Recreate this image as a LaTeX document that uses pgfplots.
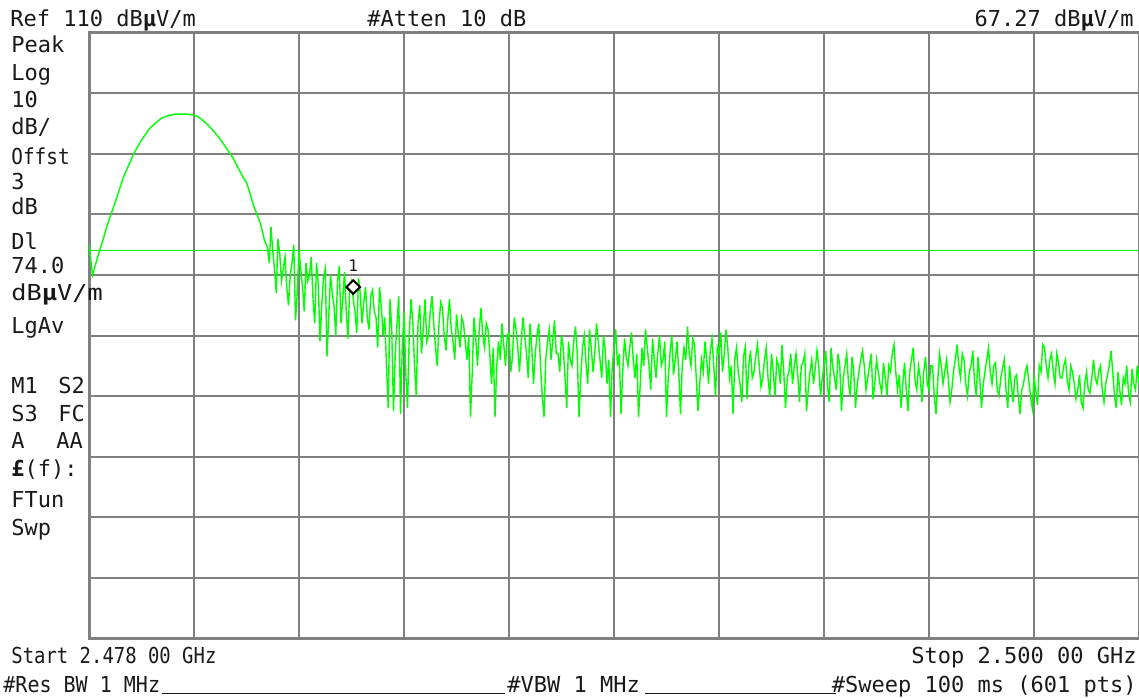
\documentclass[border=0pt]{standalone}
\usepackage{fontspec}
\setmainfont{DejaVu Sans Mono}
\usepackage{pgfplots}
\pgfplotsset{compat=1.18}
\usepackage{pgfplotstable}
\definecolor{trace}{RGB}{0,255,0}
\definecolor{gridc}{RGB}{128,128,128}
\definecolor{txt}{RGB}{25,25,25}
% trace amplitude (dBuV/m) vs sweep point (0..600 over 2.478-2.500 GHz)
% main lobe: every 2nd point, points 0..102
\pgfplotstableread[row sep=\\]{
v\\
75\\ 70\\ 72\\ 74\\ 75.8\\ 77.8\\ 79.6\\ 81.2\\ 82.9\\ 84.7\\
86.4\\ 87.7\\ 89\\ 90.3\\ 91.3\\ 92.3\\ 93.1\\ 94\\ 94.6\\ 95.1\\
95.6\\ 96\\ 96.2\\ 96.4\\ 96.5\\ 96.6\\ 96.6\\ 96.6\\ 96.6\\ 96.5\\
96.4\\ 96.2\\ 95.8\\ 95.3\\ 94.8\\ 94.2\\ 93.5\\ 92.8\\ 92\\ 91.2\\
90.3\\ 89.5\\ 88.4\\ 87.3\\ 86.2\\ 85.3\\ 83.5\\ 81.5\\ 80\\ 78.5\\
76\\ 74.5\\
}\mainlobe
% noise floor: every point, points 102..600
\pgfplotstableread[row sep=\\]{
v\\
74.5\\ 72\\ 78\\ 74\\ 71\\ 67\\ 76\\ 73.5\\ 69\\ 71\\ 73\\ 68\\ 65\\ 70\\ 72\\ 75\\ 62.5\\ 67\\
74\\ 71\\ 68\\ 64\\ 72\\ 69\\ 70\\ 73\\ 66\\ 62\\ 72\\ 68.5\\ 59\\ 65\\ 69.5\\ 71\\ 56.5\\ 63\\
70\\ 67\\ 65\\ 60\\ 69\\ 71.5\\ 62\\ 66\\ 70.5\\ 64\\ 59.5\\ 68\\ 69\\ 66\\ 64\\ 60.5\\ 69.5\\ 67\\
62\\ 65.5\\ 68\\ 63\\ 61\\ 66.5\\ 67.5\\ 64\\ 63\\ 58\\ 68\\ 65\\ 60\\ 63\\ 55\\ 48\\ 66\\ 61\\
47.5\\ 57\\ 62\\ 66.5\\ 47\\ 58\\ 64\\ 54\\ 48\\ 60\\ 66\\ 62.5\\ 55\\ 50\\ 62\\ 65\\ 57\\ 61\\
66\\ 59\\ 60\\ 64\\ 66.5\\ 62\\ 58\\ 55\\ 62\\ 65.5\\ 64.5\\ 60\\ 57.5\\ 62.5\\ 66\\ 61\\ 59\\ 56\\
63.5\\ 60.5\\ 58\\ 63\\ 62\\ 59\\ 56\\ 60\\ 46.5\\ 54\\ 63\\ 59.5\\ 55\\ 61\\ 64.5\\ 60\\ 58\\ 62\\
61\\ 57\\ 52\\ 58\\ 46.5\\ 55\\ 59\\ 56\\ 62\\ 58.5\\ 55\\ 60\\ 60.5\\ 54\\ 56.5\\ 63\\ 61\\ 58\\
54\\ 59\\ 63\\ 60\\ 57\\ 53\\ 62\\ 58\\ 52\\ 57\\ 60\\ 62\\ 55\\ 50\\ 46.5\\ 56\\ 59\\ 61\\
56\\ 59\\ 62.5\\ 57\\ 57\\ 54\\ 60\\ 58\\ 53\\ 48\\ 59\\ 56\\ 55\\ 59\\ 61.5\\ 57\\ 46.5\\ 53\\
58\\ 60\\ 55.5\\ 52\\ 61\\ 58\\ 54\\ 57\\ 62\\ 59\\ 56\\ 53\\ 60\\ 57.5\\ 52\\ 56\\ 46.5\\ 55\\
58\\ 61\\ 55\\ 57\\ 47\\ 54\\ 59.5\\ 56.5\\ 55\\ 58\\ 60.5\\ 56\\ 53\\ 57\\ 46.5\\ 52\\ 58\\ 55\\
61\\ 58\\ 55\\ 51\\ 59.5\\ 56\\ 53\\ 57\\ 60\\ 55\\ 56\\ 59\\ 46.5\\ 53\\ 57\\ 60\\ 53.5\\ 56\\
59\\ 54\\ 47\\ 55\\ 58\\ 56\\ 61.5\\ 57\\ 55\\ 59.5\\ 58.5\\ 53\\ 47.5\\ 52\\ 56\\ 54\\ 59\\ 56\\
52\\ 57.5\\ 59.5\\ 55\\ 50\\ 58\\ 57\\ 60.5\\ 54\\ 57\\ 61\\ 58\\ 53\\ 55\\ 47\\ 56\\ 58\\ 54\\
52\\ 49\\ 56.5\\ 58\\ 49.5\\ 55\\ 57.5\\ 53\\ 54\\ 56.5\\ 58.5\\ 55\\ 51.5\\ 53\\ 56\\ 58\\ 53\\ 50\\
57\\ 54\\ 50\\ 56\\ 55\\ 52\\ 58.5\\ 54\\ 48\\ 53\\ 54\\ 57\\ 52\\ 55\\ 57\\ 53.5\\ 49\\ 55\\
55.5\\ 57\\ 47.5\\ 51\\ 54\\ 56\\ 52\\ 54.5\\ 57.5\\ 55\\ 50\\ 53\\ 55\\ 57.5\\ 51.5\\ 49\\ 58\\ 55\\
53\\ 51\\ 57\\ 55\\ 47.5\\ 53\\ 55\\ 57\\ 52\\ 50\\ 56.5\\ 54\\ 48\\ 52\\ 54\\ 56\\ 57.5\\ 55\\
51\\ 53\\ 55\\ 57\\ 49.5\\ 52\\ 56\\ 54\\ 52\\ 50.5\\ 55.5\\ 53\\ 50\\ 55\\ 54\\ 57\\ 58.5\\ 54\\
51\\ 53.5\\ 48\\ 52\\ 55.5\\ 51\\ 47.5\\ 54\\ 56\\ 58\\ 52.5\\ 51\\ 55\\ 53\\ 49\\ 54\\ 56.5\\ 52\\
51\\ 55\\ 55\\ 50\\ 47\\ 52.5\\ 57\\ 55\\ 52\\ 54\\ 56\\ 53\\ 49\\ 51\\ 54\\ 56\\ 58.5\\ 55\\
53\\ 57\\ 56\\ 52\\ 50\\ 54\\ 55\\ 57.5\\ 52.5\\ 50\\ 56.5\\ 53\\ 48\\ 52\\ 54\\ 56\\ 58\\ 54\\
52\\ 55\\ 55.5\\ 51\\ 50\\ 53\\ 54.5\\ 56\\ 51\\ 48\\ 55\\ 52\\ 49\\ 53\\ 53.5\\ 50\\ 47\\ 51\\
52\\ 54\\ 55\\ 52.5\\ 50\\ 48\\ 53\\ 51\\ 48.5\\ 55\\ 54\\ 58.5\\ 58\\ 55\\ 53\\ 56\\ 57\\ 54\\
52\\ 57\\ 55.5\\ 53\\ 53\\ 55\\ 56\\ 52.5\\ 51\\ 55\\ 54\\ 52\\ 49.5\\ 51\\ 53.5\\ 49\\ 48\\ 52\\
54\\ 51\\ 50.5\\ 53\\ 56\\ 53\\ 52\\ 54\\ 55\\ 51\\ 49\\ 52\\ 53.5\\ 55\\ 57.5\\ 54\\ 50\\ 48\\
54\\ 51\\ 48.5\\ 53\\ 52\\ 55\\ 50.5\\ 49\\ 54.5\\ 52\\ 51\\ 55\\ 52\\
}\noisefloor
\begin{document}
\begin{tikzpicture}
\useasboundingbox (0,0) rectangle (569.5pt,348.5pt);
\begin{axis}[
  at={(44.5pt,29.5pt)}, anchor=south west,
  width=525pt, height=302.5pt, scale only axis,
  xmin=0, xmax=600, ymin=10, ymax=110,
  xtick={0,60,...,600}, ytick={10,20,...,110},
  xticklabels={}, yticklabels={},
  major tick length=0pt,
  grid=major,
  major grid style={draw=gridc, line width=1pt},
  axis line style={draw=gridc, line width=1.5pt},
  clip=true,
]
\addplot[trace, line width=0.7pt] table[x expr=\coordindex*2, y=v] {\mainlobe};
\addplot[trace, line width=0.7pt] table[x expr=102+\coordindex, y=v] {\noisefloor};
\addplot[trace, line width=0.6pt] coordinates {(0,74) (600,74)};
\addplot[only marks, mark=square*, mark size=2.4pt, mark options={rotate=45, fill=white, draw=black, line width=1pt}] coordinates {(151,68)};
\node[font=\fontsize{8}{9}\selectfont, text=txt] at (axis cs:151,71.6) {1};
\end{axis}
\begin{scope}[x=0.5pt, y=-0.5pt, shift={(0,348.5pt)}, every node/.style={inner sep=0pt, text=txt, font=\fontsize{11}{13}\selectfont}]
% top row
\node[anchor=base west] at (10,27) {Ref 110 dB\textbf{μ}V/m};
\node[anchor=base west] at (367,27) {\#Atten 10 dB};
\node[anchor=base east] at (1134,27) {67.27 dB\textbf{μ}V/m};
% left column
\node[anchor=base west] at (11,53) {Peak};
\node[anchor=base west] at (11,81) {Log};
\node[anchor=base west] at (11,108) {10};
\node[anchor=base west] at (11,135) {dB/};
\node[anchor=base west] at (11,165) {\scalebox{0.88}[1]{Offst}};
\node[anchor=base west] at (11,190) {3};
\node[anchor=base west] at (11,215) {dB};
\node[anchor=base west] at (11,250) {Dl};
\node[anchor=base west] at (11,274) {74.0};
\node[anchor=base west] at (11,300) {\scalebox{1.15}[1]{dB\textbf{μ}V/m}};
\node[anchor=base west] at (11,333) {LgAv};
\node[anchor=base west] at (11,393) {M1};
\node[anchor=base west] at (58,393) {S2};
\node[anchor=base west] at (11,421) {S3};
\node[anchor=base west] at (58,421) {FC};
\node[anchor=base west] at (11,448) {A};
\node[anchor=base west] at (56,448) {AA};
\node[anchor=base west] at (11,476) {\textbf{£}(f):};
\node[anchor=base west] at (11,507) {FTun};
\node[anchor=base west] at (11,535) {Swp};
% bottom rows
\node[anchor=base west] at (11,663) {\scalebox{0.86}[1]{Start 2.478 00 GHz}};
\node[anchor=base east] at (1137,663) {Stop 2.500 00 GHz};
\node[anchor=base west] at (3,692) {\scalebox{0.91}[1]{\#Res BW 1 MHz}};
\node[anchor=base west] at (507,692) {\#VBW 1 MHz};
\node[anchor=base east] at (1137,692) {\#Sweep 100 ms (601 pts)};
\draw[txt, line width=0.5pt] (162,693) -- (505,693);
\draw[txt, line width=0.5pt] (645,693) -- (836,693);
\end{scope}
\end{tikzpicture}
\end{document}
